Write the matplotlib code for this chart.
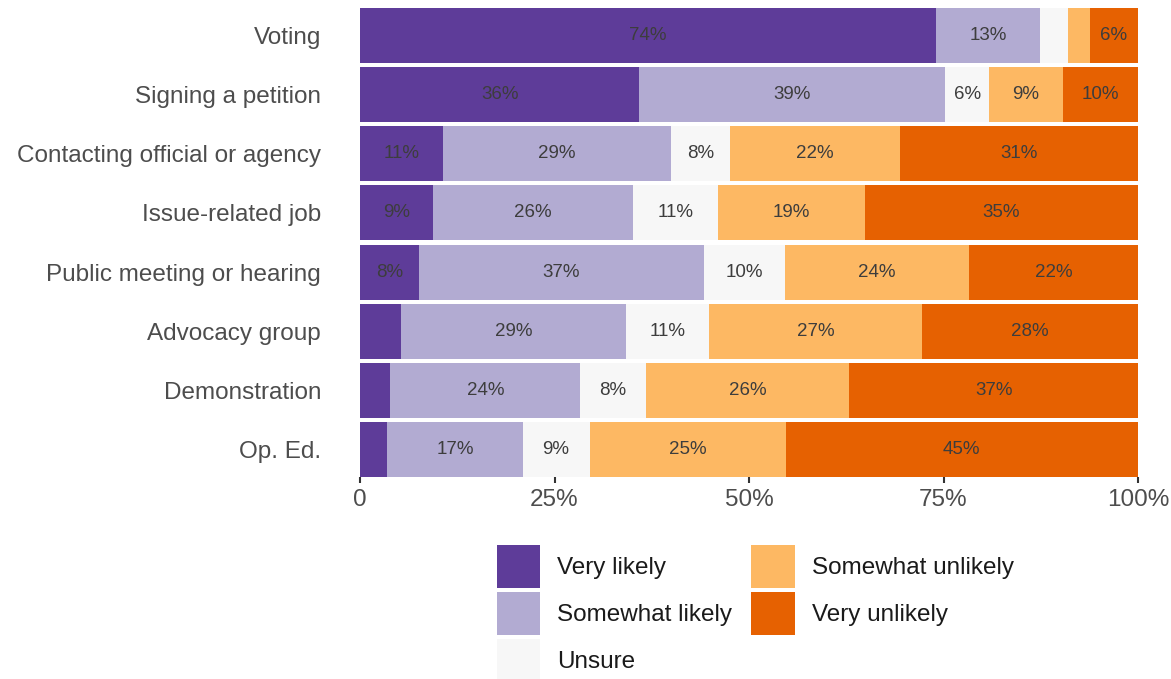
import matplotlib.pyplot as plt
import matplotlib.patches as mpatches
from matplotlib.legend_handler import HandlerPatch
import numpy as np

plt.rcParams['font.family'] = ['Liberation Sans', 'DejaVu Sans']

# Aktywności (od góry do dołu)
activities = ["Voting", "Signing a petition", "Contacting official or agency",
              "Issue-related job", "Public meeting or hearing", "Advocacy group",
              "Demonstration", "Op. Ed."]

responses = ["Very likely", "Somewhat likely", "Unsure",
             "Somewhat unlikely", "Very unlikely"]

# Procenty
very_likely = [74.0, 35.9, 10.7, 9.4, 7.6, 5.3, 3.9, 3.5]
somewhat_likely = [13.4, 39.3, 29.3, 25.7, 36.6, 28.9, 24.4, 17.4]
unsure = [3.6, 5.7, 7.6, 10.9, 10.4, 10.7, 8.4, 8.6]
somewhat_unlikely = [2.8, 9.4, 21.8, 18.9, 23.7, 27.4, 26.2, 25.2]
very_unlikely = [6.2, 9.7, 30.6, 35.1, 21.7, 27.7, 37.1, 45.3]

colors = ["#5e3c99", "#b2abd2", "#f7f7f7", "#fdb863", "#e66101"]

series = [very_likely, somewhat_likely, unsure, somewhat_unlikely, very_unlikely]

fig = plt.figure(figsize=(11.71, 6.79), dpi=100)
ax = fig.add_axes([360 / 1171, 1 - 477 / 679, 778 / 1171, 469 / 679])

y = np.arange(len(activities))
left = np.zeros(len(activities))
for name, vals, col in zip(responses, series, colors):
    vals = np.array(vals)
    ax.barh(y, vals, left=left, height=0.93, color=col, label=name, linewidth=0)
    for yi, l, v in zip(y, left, vals):
        if v >= 5.5:
            ax.text(l + v / 2, yi, f"{round(v):.0f}%", ha='center', va='center',
                    fontsize=13.5, color='#3d3d3d')
    left += vals

ax.set_xlim(0, 100)
ax.set_ylim(len(activities) - 1 + 0.465, -0.465)
ax.set_yticks(y)
ax.set_yticklabels(activities, fontsize=17.5, color='#4d4d4d')
ax.set_xticks([0, 25, 50, 75, 100])
ax.set_xticklabels(["0", "25%", "50%", "75%", "100%"], fontsize=17.5, color='#4d4d4d')
ax.tick_params(axis='y', length=0, pad=28)
ax.tick_params(axis='x', length=4.5, width=1.5, color='#333333', pad=4)
for s in ax.spines.values():
    s.set_visible(False)

# Legenda - kwadraty bez wewnętrznego marginesu
handles = [mpatches.Patch(facecolor=c, linewidth=0) for c in colors]
leg = fig.legend(handles, responses, loc='upper left',
                 bbox_to_anchor=(497 / 1171, 1 - 545 / 679), ncol=2,
                 frameon=False, fontsize=17.5, handlelength=1.77, handleheight=2.35,
                 labelspacing=0.16, handletextpad=0.7, columnspacing=0.8,
                 borderpad=0, borderaxespad=0,
                 handler_map={mpatches.Patch: HandlerPatch(xpad=0, ypad=0)})
for t in leg.get_texts():
    t.set_color('#1a1a1a')

fig.savefig("out.png", dpi=100)
